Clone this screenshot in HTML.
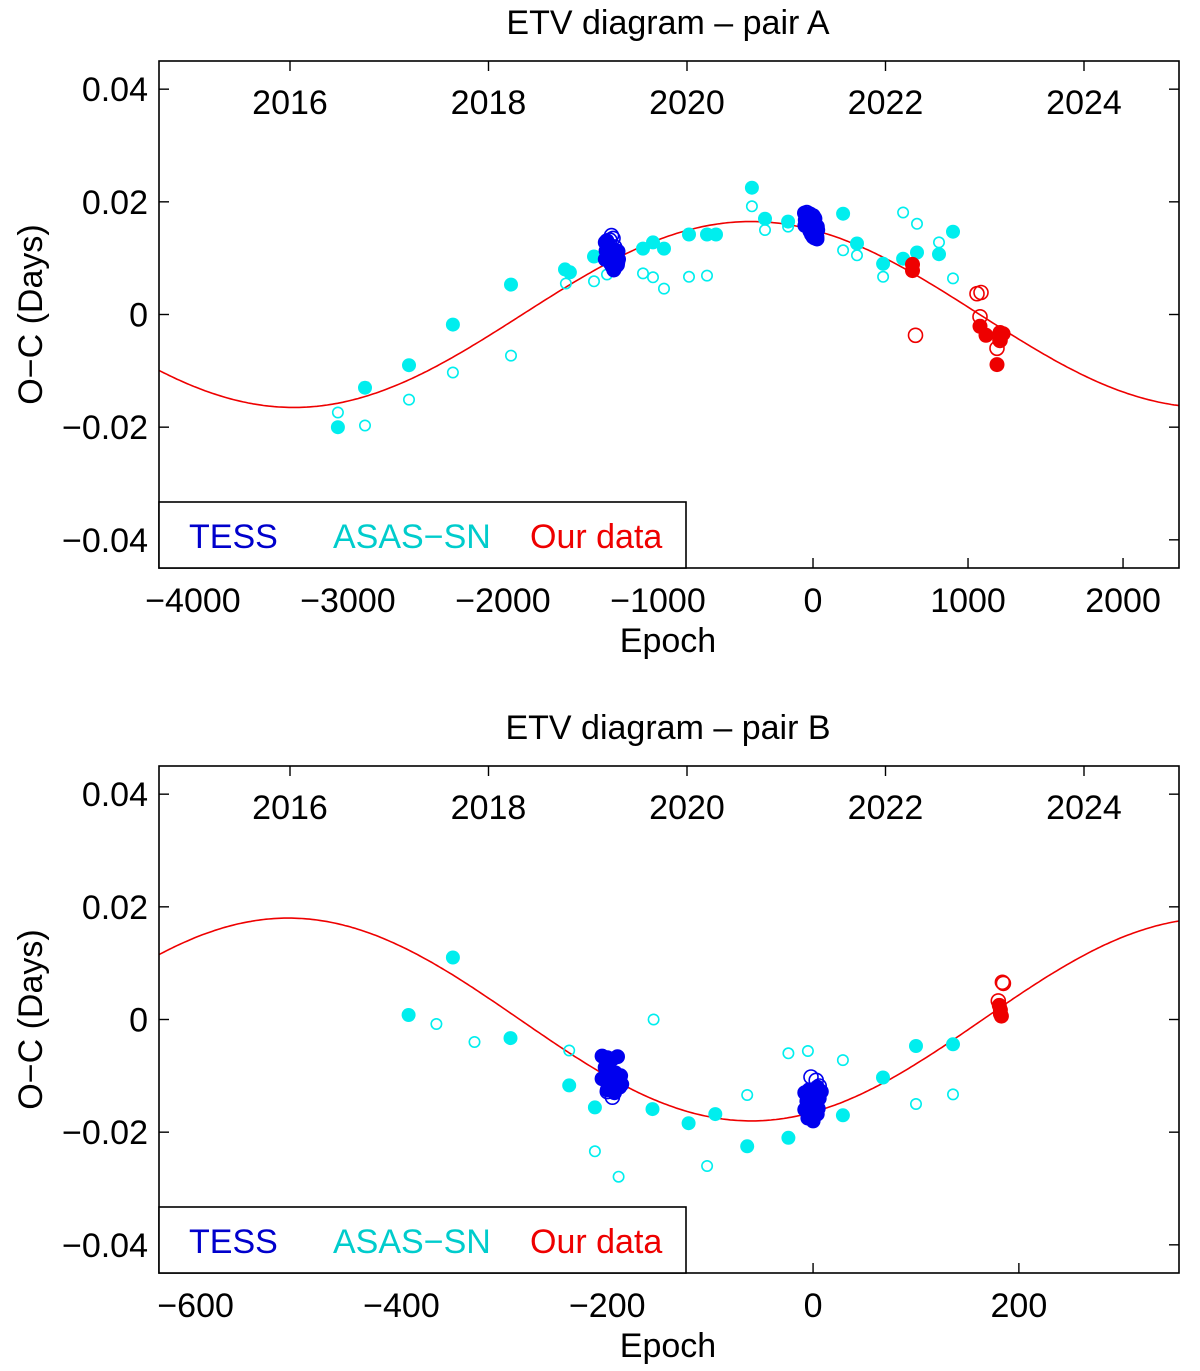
<!DOCTYPE html>
<html><head><meta charset="utf-8">
<style>
html,body{margin:0;padding:0;background:#fff;}
svg{display:block;font-family:"Liberation Sans",Arial,sans-serif;}
</style></head>
<body>
<svg id="fig" width="1200" height="1371" viewBox="0 0 1200 1371" xmlns="http://www.w3.org/2000/svg"></svg>
<script>
// ---------- Pair A data ----------
const A_fitParams = [0.0165, 5900, -1875]; // amplitude, period, zero-epoch
const A_asasFilledE = [-3065,-2890,-2606,-2323,-1948,-1600,-1568,-1413,-1097,-1032,-961,-800,-684,-626,-394,-310,-161,194,284,452,581,671,813,903];
const A_asasFilledV = [-0.020,-0.013,-0.009,-0.0018,0.0053,0.008,0.0075,0.0103,0.0117,0.0128,0.0117,0.0142,0.0142,0.0142,0.0225,0.017,0.0165,0.0179,0.0126,0.009,0.0099,0.011,0.0107,0.0147];
const A_asasOpenE = [-3065,-2890,-2606,-2323,-1948,-1594,-1413,-1329,-1097,-1032,-961,-800,-684,-394,-310,-161,194,284,452,581,671,813,903];
const A_asasOpenV = [-0.0174,-0.0197,-0.0151,-0.0103,-0.0073,0.0055,0.0059,0.0071,0.0073,0.0066,0.0046,0.0067,0.0069,0.0192,0.015,0.0156,0.0114,0.0105,0.0067,0.0181,0.0161,0.0128,0.0064];
const A_tessFilledE = [-1340,-1330,-1320,-1310,-1300,-1290,-1280,-1270,-1260,-1255,-1335,-1325,-1315,-1305,-1295,-1285,-1275,-1265,-1258,-1340,-1320,-1300,-1280,-1262,-55,-45,-35,-25,-15,-5,5,15,25,30,-50,-40,-30,-20,-10,0,10,20,28,-52,-32,-12,8,26];
const A_tessFilledV = [0.0128,0.0131,0.0118,0.0104,0.0095,0.0088,0.0082,0.0086,0.0092,0.0098,0.0113,0.0106,0.0098,0.0090,0.0085,0.0079,0.0094,0.0105,0.0112,0.0098,0.0125,0.0115,0.0110,0.0088,0.0180,0.0176,0.0170,0.0163,0.0158,0.0150,0.0145,0.0140,0.0138,0.0150,0.0168,0.0160,0.0154,0.0148,0.0142,0.0138,0.0136,0.0146,0.0156,0.0158,0.0178,0.0165,0.0172,0.0134];
const A_tessOpenE = [-1300,-1290,-1310,-1280,-20,0,10,-40];
const A_tessOpenV = [0.0140,0.0135,0.0132,0.0120,0.0178,0.0175,0.0170,0.0181];
const A_ourFilledE = [642,642,1077,1116,1206,1206,1226,1187];
const A_ourFilledV = [0.0089,0.0078,-0.0021,-0.0037,-0.0032,-0.0044,-0.0034,-0.0089];
const A_ourOpenE = [661,1058,1084,1077,1187,1206];
const A_ourOpenV = [-0.0037,0.0037,0.0039,-0.0004,-0.006,-0.0046];
const A_xTicks = [-4000,-3000,-2000,-1000,0,1000,2000];
const A_xLim = [-4219,2361];

// ---------- Pair B data ----------
const B_fitParams = [0.018, 900, -735];
const B_asasFilledE = [-393,-350,-294,-237,-212,-156,-121,-95,-64,-24,29,68,100,136];
const B_asasFilledV = [0.0008,0.011,-0.0033,-0.0117,-0.0156,-0.0159,-0.0184,-0.0168,-0.0225,-0.021,-0.017,-0.0103,-0.0047,-0.0044];
const B_asasOpenE = [-366,-329,-237,-212,-189,-155,-103,-64,-24,-5,29,100,136];
const B_asasOpenV = [-0.0008,-0.004,-0.0055,-0.0234,-0.0279,0.0,-0.026,-0.0134,-0.006,-0.0056,-0.0072,-0.015,-0.0133];
const B_tessFilledE = [-205,-200,-195,-190,-202,-197,-192,-187,-205,-198,-190,-186,-200,-193,-188,-8,-4,0,4,8,-6,-2,2,6,-8,-3,1,5,-5,0,4];
const B_tessFilledV = [-0.0065,-0.0068,-0.0070,-0.0066,-0.0085,-0.0090,-0.0095,-0.0100,-0.0105,-0.0112,-0.0108,-0.0115,-0.0125,-0.0130,-0.0120,-0.0130,-0.0125,-0.0135,-0.0120,-0.0128,-0.0145,-0.0150,-0.0155,-0.0140,-0.0160,-0.0165,-0.0170,-0.0158,-0.0175,-0.0180,-0.0168];
const B_tessOpenE = [-200,-195,-188,-2,-5,6,3];
const B_tessOpenV = [-0.0128,-0.0138,-0.0118,-0.0102,-0.0128,-0.0118,-0.0108];
const B_ourFilledE = [182,183,182,181];
const B_ourFilledV = [0.0017,0.0006,0.0010,0.0025];
const B_ourOpenE = [184,185,180];
const B_ourOpenV = [0.0066,0.0064,0.0033];
const B_xTicks = [-600,-400,-200,0,200];
const B_xLim = [-635.6,355.6];

const yTicks = [0.04,0.02,0,-0.02,-0.04];
const yTickLabels = ["0.04","0.02","0","\u22120.02","\u22120.04"];
const yearTicks = [2016,2018,2020,2022,2024];
const yLim = [-0.045,0.045];

const NS = "http://www.w3.org/2000/svg";
const svg = document.getElementById('fig');
function mk(tag, attrs, parent){
  const e = document.createElementNS(NS, tag);
  for (const k in attrs) e.setAttribute(k, attrs[k]);
  (parent||svg).appendChild(e);
  return e;
}
function fmt(v){ return (v<0?"\u2212":"") + Math.abs(v); }

const CYAN = "#00eeee", BLUE = "#0000ee", RED = "#ee0000";
const FS = 34;

function panel(cfg){
  const L=159, R=1179, T=cfg.top, B=cfg.top+507;
  const g = mk('g', {});
  
  
  const xs = e => L + (e - cfg.xLim[0])/(cfg.xLim[1]-cfg.xLim[0])*(R-L);
  const ys = v => B - (v - yLim[0])/(yLim[1]-yLim[0])*(B-T);

  const title = mk('text', {x:668, y:T-27, 'font-size':FS, 'text-anchor':'middle', fill:'#000', 'xml:space':'preserve'}, g);
  title.textContent = cfg.title;
  
  

  const clip = mk('clipPath', {id:'clip'+cfg.id}, g);
  mk('rect', {x:L, y:T, width:R-L, height:B-T}, clip);
  let d = "";
  const [amp, per, e0] = cfg.fit;
  for (let i=0;i<=400;i++){
    const e = cfg.xLim[0] + (cfg.xLim[1]-cfg.xLim[0])*i/400;
    const v = amp*Math.sin(2*Math.PI*(e-e0)/per);
    d += (i?"L":"M") + xs(e).toFixed(1) + " " + ys(v).toFixed(1);
  }
  const curve = mk('path', {d:d, fill:'none', stroke:RED, 'stroke-width':1.6, 'clip-path':'url(#clip'+cfg.id+')'}, g);
  
  

  function pts(E, V, color, filled, r, name){
    for (let i=0;i<E.length;i++){
      const c = mk('circle', {cx:xs(E[i]).toFixed(1), cy:ys(V[i]).toFixed(1), r:r,
        fill: filled?color:'none', stroke:color, 'stroke-width': filled?0:1.6}, g);
      
      
    }
  }
  const D = cfg.data;
  pts(D.asasOE, D.asasOV, CYAN, false, 5.2, 'asas-sn-secondary-point');
  pts(D.asasFE, D.asasFV, CYAN, true, 7, 'asas-sn-primary-point');
  pts(D.tessOE, D.tessOV, BLUE, false, 7, 'tess-secondary-point');
  pts(D.tessFE, D.tessFV, BLUE, true, 7.5, 'tess-primary-point');
  pts(D.ourOE, D.ourOV, RED, false, 7, 'our-data-secondary-point');
  pts(D.ourFE, D.ourFV, RED, true, 7.5, 'our-data-primary-point');

  const frame = mk('rect', {x:L, y:T, width:R-L, height:B-T, fill:'none', stroke:'#000', 'stroke-width':1.6}, g);
  
  

  cfg.xTicks.forEach(t=>{
    const x = xs(t);
    mk('line', {x1:x, y1:B, x2:x, y2:B-10, stroke:'#000', 'stroke-width':1.4}, g);
    const lb = mk('text', {x:x, y:B+44, 'font-size':FS, 'text-anchor':'middle'}, g);
    lb.textContent = fmt(t);
    
    
  });
  yearTicks.forEach(yr=>{
    const x = 290 + (yr-2016)/2*198.5;
    mk('line', {x1:x, y1:T, x2:x, y2:T+10, stroke:'#000', 'stroke-width':1.4}, g);
    const lb = mk('text', {x:x, y:T+53, 'font-size':FS, 'text-anchor':'middle'}, g);
    lb.textContent = String(yr);
    
    
  });
  yTicks.forEach((t,i)=>{
    const y = ys(t);
    mk('line', {x1:L, y1:y, x2:L+10, y2:y, stroke:'#000', 'stroke-width':1.4}, g);
    mk('line', {x1:R, y1:y, x2:R-10, y2:y, stroke:'#000', 'stroke-width':1.4}, g);
    const lb = mk('text', {x:148, y:y+12, 'font-size':FS, 'text-anchor':'end'}, g);
    lb.textContent = yTickLabels[i];
    
    
  });
  const xt = mk('text', {x:668, y:B+84, 'font-size':FS, 'text-anchor':'middle'}, g);
  xt.textContent = "Epoch";
  
  
  const cy = (T+B)/2;
  const yt = mk('text', {x:0, y:0, 'font-size':FS, 'text-anchor':'middle', transform:`translate(42,${cy}) rotate(-90)`}, g);
  yt.textContent = "O\u2212C (Days)";
  
  

  const lg = mk('g', {}, g);
  
  
  mk('rect', {x:L, y:B-66, width:527, height:66, fill:'#fff', stroke:'#000', 'stroke-width':1.6}, lg);
  [["TESS",189,"#0000cc"],["ASAS\u2212SN",333,"#00cccc"],["Our data",530,"#ee0000"]].forEach(([t,x,c])=>{
    const e = mk('text', {x:x, y:B-20, 'font-size':FS, fill:c}, lg);
    e.textContent = t;
    
    
  });
}

panel({id:'A', name:'pair-a-chart', title:"ETV diagram  \u2013 pair A", top:61, xLim:A_xLim, xTicks:A_xTicks, fit:A_fitParams,
  data:{asasFE:A_asasFilledE, asasFV:A_asasFilledV, asasOE:A_asasOpenE, asasOV:A_asasOpenV,
        tessFE:A_tessFilledE, tessFV:A_tessFilledV, tessOE:A_tessOpenE, tessOV:A_tessOpenV,
        ourFE:A_ourFilledE, ourFV:A_ourFilledV, ourOE:A_ourOpenE, ourOV:A_ourOpenV}});
panel({id:'B', name:'pair-b-chart', title:"ETV diagram  \u2013 pair B", top:766, xLim:B_xLim, xTicks:B_xTicks, fit:B_fitParams,
  data:{asasFE:B_asasFilledE, asasFV:B_asasFilledV, asasOE:B_asasOpenE, asasOV:B_asasOpenV,
        tessFE:B_tessFilledE, tessFV:B_tessFilledV, tessOE:B_tessOpenE, tessOV:B_tessOpenV,
        ourFE:B_ourFilledE, ourFV:B_ourFilledV, ourOE:B_ourOpenE, ourOV:B_ourOpenV}});
</script>
</body></html>
